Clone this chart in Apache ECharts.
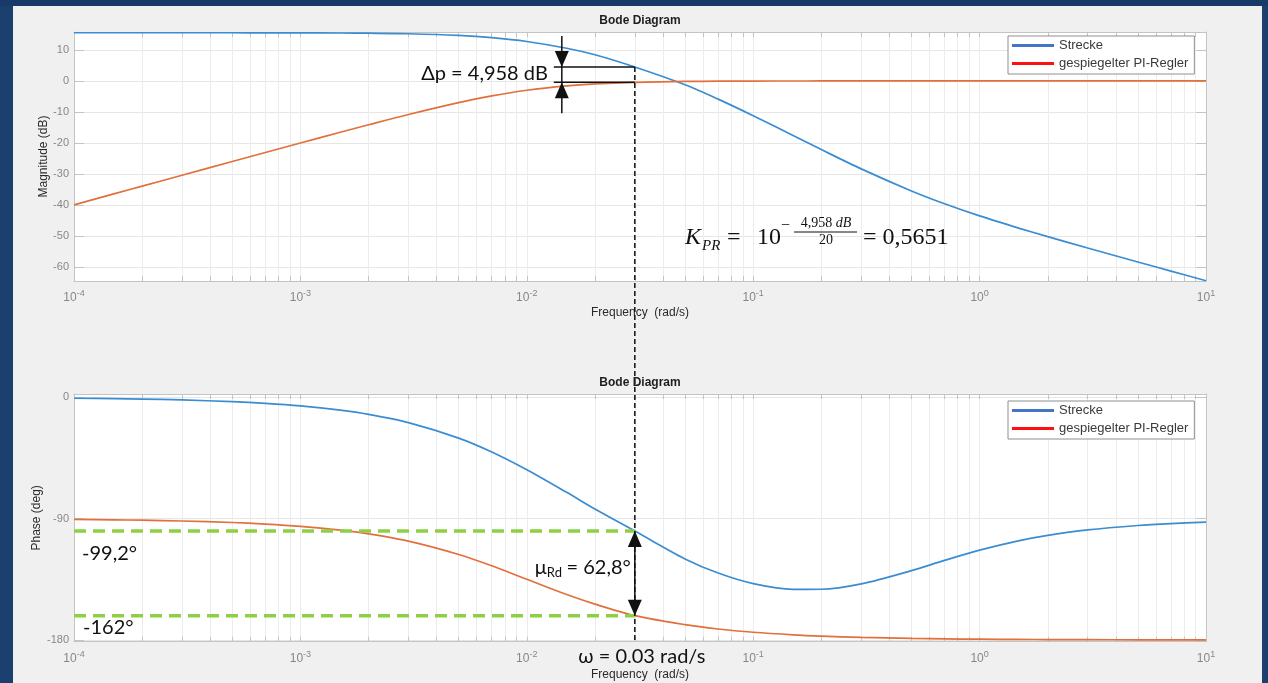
<!DOCTYPE html>
<html>
<head>
<meta charset="utf-8">
<title>Bode Diagram</title>
<script src="https://cdn.jsdelivr.net/npm/echarts@6/dist/echarts.min.js"></script>
<style>
  html, body { margin: 0; padding: 0; background: #1b3f6f; }
  #chart { width: 1268px; height: 683px; }
</style>
</head>
<body>
<div id="chart"></div>
<script>
// Frequency grid (rad/s)
const freq = [1e-4, 1.5e-4, 2e-4, 3e-4, 5e-4, 7e-4,
              1e-3, 1.5e-3, 2e-3, 3e-3, 5e-3, 7e-3,
              1e-2, 1.5e-2, 2e-2, 3e-2, 5e-2, 7e-2,
              0.1, 0.15, 0.2, 0.3, 0.5, 0.7,
              1, 1.5, 2, 3, 5, 7, 10];

// Strecke: magnitude (dB) and phase (deg)
const streckeMag = [15.56, 15.56, 15.56, 15.56, 15.55, 15.54,
                    15.53, 15.48, 15.41, 15.23, 14.69, 13.98,
                    12.74, 10.55, 8.45, 4.50, -1.24, -5.87,
                    -11.23, -17.61, -22.17, -28.40, -35.53, -39.66,
                    -43.57, -47.59, -50.28, -53.95, -58.46, -61.40, -64.51];
const streckePhase = [-0.64, -0.96, -1.27, -1.91, -3.18, -4.45,
                      -6.35, -9.50, -12.62, -18.73, -30.21, -40.51,
                      -53.66, -70.46, -82.86, -99.2, -119.90, -130.37,
                      -138.19, -142.41, -142.37, -138.41, -128.60, -120.96,
                      -113.36, -106.30, -102.43, -98.39, -95.07, -93.63, -92.54];

// gespiegelter PI-Regler: magnitude (dB) and phase (deg)
const reglerMag = [-40.00, -36.48, -33.98, -30.46, -26.03, -23.12,
                   -20.04, -16.57, -14.15, -10.83, -6.99, -4.83,
                   -3.01, -1.60, -0.97, -0.458, -0.17, -0.09,
                   -0.04, -0.02, -0.01, 0, 0, 0,
                   0, 0, 0, 0, 0, 0, 0];
const reglerPhase = [-90.57, -90.86, -91.15, -91.72, -92.86, -94.00,
                     -95.71, -98.53, -101.31, -106.70, -116.57, -124.99,
                     -135.00, -146.31, -153.43, -162.0, -168.69, -171.87,
                     -174.29, -176.19, -177.14, -178.09, -178.85, -179.18,
                     -179.43, -179.62, -179.71, -179.81, -179.89, -179.92, -179.94];

// Operating point and derived quantities
const markFreq = 0.03;
const deltaP = 4.958;
const phaseStrecke = -99.2;
const phaseRegler = -162;
const phaseMargin = 62.8;

// Axis ranges and ticks
const xMin = 1e-4, xMax = 10;
const freqDecades = [1e-4, 1e-3, 1e-2, 1e-1, 1, 10];
const magRange = [-64.6, 15.8];
const magTicks = [-60, -50, -40, -30, -20, -10, 0, 10];
const phaseRange = [-181.3, 2.5];
const phaseTicks = [-180, -90, 0];

const freqTicks = [];
for (let e = -4; e < 1; e++) {
  for (let m = 1; m < 10; m++) freqTicks.push(Number((m * Math.pow(10, e)).toPrecision(3)));
}
freqTicks.push(10);

const SANS = '"Liberation Sans", Arial, sans-serif';
const NOTE = 'Lato, "Open Sans", "Noto Sans", sans-serif';
const SERIF = '"Liberation Serif", "DejaVu Serif", serif';
const TICK_GRAY = '#878787';
const AXIS_GRAY = '#c4c4c4';
const BLUE = '#3a8dd2';
const ORANGE = '#e2703c';
const GREEN = '#8fcf45';

const chart = echarts.init(document.getElementById('chart'), null, { renderer: 'canvas' });

function freqAxes(gridIndex, nameGap) {
  const common = {
    type: 'log', logBase: 10, gridIndex: gridIndex, min: xMin, max: xMax,
    axisLine: { show: true, onZero: false, lineStyle: { color: AXIS_GRAY, width: 1 } },
    axisTick: { show: true, inside: true, length: 5, customValues: freqTicks, lineStyle: { color: AXIS_GRAY } },
    minorTick: { show: false },
    minorSplitLine: { show: false }
  };
  return [
    Object.assign({}, common, {
      position: 'bottom',
      name: 'Frequency  (rad/s)', nameLocation: 'middle', nameGap: nameGap,
      nameTextStyle: { fontFamily: SANS, fontSize: 12, color: '#2a2a2a' },
      axisLabel: {
        show: true, customValues: freqDecades, margin: 8,
        formatter: v => '{b|10}{s|' + Math.round(Math.log10(v)) + '}',
        rich: {
          b: { fontFamily: SANS, fontSize: 12, color: TICK_GRAY },
          s: { fontFamily: SANS, fontSize: 9, color: TICK_GRAY, padding: [0, 0, 8, 0] }
        }
      },
      splitLine: { show: true, lineStyle: { color: '#ececec', width: 1 } }
    }),
    Object.assign({}, common, {
      position: 'top', axisLabel: { show: false }, splitLine: { show: false }
    })
  ];
}

function valueAxes(gridIndex, range, ticks, name, nameGap) {
  const common = {
    type: 'value', gridIndex: gridIndex, min: range[0], max: range[1],
    axisLine: { show: true, onZero: false, lineStyle: { color: AXIS_GRAY, width: 1 } },
    axisTick: { show: true, inside: true, length: 10, customValues: ticks, lineStyle: { color: AXIS_GRAY } }
  };
  return [
    Object.assign({}, common, {
      position: 'left',
      name: name, nameLocation: 'middle', nameGap: nameGap, nameMoveOverlap: false,
      nameTextStyle: { fontFamily: SANS, fontSize: 12, color: '#2a2a2a' },
      axisLabel: { customValues: ticks, margin: 5, fontFamily: SANS, fontSize: 11, color: TICK_GRAY },
      splitLine: { show: true, lineStyle: { color: '#e6e6e6', width: 1 } }
    }),
    Object.assign({}, common, {
      position: 'right', axisLabel: { show: false }, splitLine: { show: false }
    })
  ];
}

function curve(name, xi, yi, values, color) {
  return {
    name: name, type: 'line', xAxisIndex: xi, yAxisIndex: yi,
    data: freq.map((f, i) => [f, values[i]]),
    symbol: 'none', showSymbol: false, smooth: 0.3,
    lineStyle: { color: color, width: 1.7 }, itemStyle: { color: color },
    emphasis: { disabled: true }, z: 3
  };
}

function guide(yValue) {
  return {
    name: 'guide', type: 'line', xAxisIndex: 2, yAxisIndex: 2,
    data: [[xMin, yValue], [markFreq, yValue]],
    symbol: 'none', silent: true,
    lineStyle: { color: GREEN, width: 3.5, type: [12, 7] },
    emphasis: { disabled: true }, z: 4
  };
}

function legendBox(top) {
  return {
    left: 1008, top: top, orient: 'vertical', selectedMode: false,
    icon: 'rect', itemWidth: 42, itemHeight: 3, itemGap: 5,
    backgroundColor: '#ffffff', borderColor: '#8f8f8f', borderWidth: 1, borderRadius: 0,
    padding: [3, 6, 4, 4],
    textStyle: { fontFamily: SANS, fontSize: 13, color: '#3a3a3a' },
    data: [
      { name: 'Strecke', itemStyle: { color: '#4474c8' } },
      { name: 'gespiegelter PI-Regler', itemStyle: { color: '#ff1010' } }
    ]
  };
}

chart.setOption({
  animation: false,
  backgroundColor: '#f0f0f0',
  grid: [
    { left: 74, top: 32, width: 1132, height: 249, show: true, backgroundColor: '#ffffff', borderWidth: 0 },
    { left: 74, top: 394, width: 1132, height: 247.7, show: true, backgroundColor: '#ffffff', borderWidth: 0 }
  ],
  xAxis: freqAxes(0, 26).concat(freqAxes(1, 27)),
  yAxis: valueAxes(0, magRange, magTicks, 'Magnitude (dB)', 24)
           .concat(valueAxes(1, phaseRange, phaseTicks, 'Phase (deg)', 31)),
  legend: [legendBox(36), legendBox(401)],
  series: [
    curve('Strecke', 0, 0, streckeMag, BLUE),
    curve('gespiegelter PI-Regler', 0, 0, reglerMag, ORANGE),
    curve('Strecke', 2, 2, streckePhase, BLUE),
    curve('gespiegelter PI-Regler', 2, 2, reglerPhase, ORANGE),
    guide(phaseStrecke),
    guide(phaseRegler)
  ]
});

// Annotations placed from the axes' own scales
const iMark = freq.indexOf(markFreq);
const px = (s, x, y) => chart.convertToPixel({ seriesIndex: s }, [x, y]);
const [x03, yBm] = px(0, markFreq, streckeMag[iMark]);
const yRm = px(0, markFreq, reglerMag[iMark])[1];
const yBp = px(2, markFreq, streckePhase[iMark])[1];
const yRp = px(2, markFreq, reglerPhase[iMark])[1];
const yBottom = px(2, markFreq, phaseRange[0])[1];
const xArr = x03 - 73;

const de = (v, d) => v.toFixed(d).replace('.', ',');
const kpr = Math.pow(10, -deltaP / 20);
const INK = '#111111';

function text(x, y, str, font, align, extra) {
  return { type: 'text', x: x, y: y, z: 120, silent: true,
    style: Object.assign({ text: str, font: font, fill: INK, align: align || 'left', verticalAlign: 'middle' }, extra || {}) };
}
function seg(x1, y1, x2, y2, w, dash) {
  return { type: 'line', z: 110, silent: true, shape: { x1: x1, y1: y1, x2: x2, y2: y2 },
    style: { stroke: INK, lineWidth: w, lineDash: dash || null } };
}
function tri(x, tipY, baseY) {
  return { type: 'polygon', z: 111, silent: true,
    shape: { points: [[x - 7, baseY], [x + 7, baseY], [x, tipY]] }, style: { fill: INK } };
}

const elements = [
  // slide frame around the figure panel
  { type: 'rect', z: 200, silent: true, shape: { x: 0, y: 0, width: 13, height: 683 }, style: { fill: '#1b3f6f' } },
  { type: 'rect', z: 200, silent: true, shape: { x: 1262, y: 0, width: 6, height: 683 }, style: { fill: '#1b3f6f' } },
  { type: 'rect', z: 200, silent: true, shape: { x: 0, y: 0, width: 1268, height: 6 }, style: { fill: '#173a68' } },

  // plot titles
  text(640, 20.5, 'Bode Diagram', 'bold 12px ' + SANS, 'center', { fill: '#1e1e1e' }),
  text(640, 382.5, 'Bode Diagram', 'bold 12px ' + SANS, 'center', { fill: '#1e1e1e' }),

  // vertical marker at the chosen frequency
  seg(x03, yBm, x03, yBottom, 1.5, [5, 3]),

  // magnitude gap
  seg(xArr - 8, yBm, x03, yBm, 1.5),
  seg(xArr - 8, yRm, x03, yRm, 1.5),
  seg(xArr, yBm - 31, xArr, yRm + 31, 1.5),
  tri(xArr, yBm, yBm - 16),
  tri(xArr, yRm, yRm + 16),
  text(xArr - 14, (yBm + yRm) / 2 - 1, 'Δp = ' + de(deltaP, 3) + ' dB', '20px ' + NOTE, 'right'),

  // phase gap
  seg(x03, yBp + 4, x03, yRp - 4, 1.5),
  tri(x03, yBp, yBp + 16),
  tri(x03, yRp, yRp - 16),
  text(x03 - 100, (yBp + yRp) / 2 - 6, 'μ', '20px ' + NOTE, 'left'),
  text(x03 - 88, (yBp + yRp) / 2 - 1, 'Rd', '13px ' + NOTE, 'left'),
  text(x03 - 4, (yBp + yRp) / 2 - 6, '= ' + de(phaseMargin, 1) + '°', '20px ' + NOTE, 'right'),
  text(82, yBp + 22, de(phaseStrecke, 1) + '°', '20px ' + NOTE, 'left'),
  text(83, yRp + 12, de(phaseRegler, 0) + '°', '20px ' + NOTE, 'left'),
  text(x03 + 7, yBottom + 15, 'ω = ' + markFreq + ' rad/s', '20px ' + NOTE, 'center'),

  // controller gain formula
  text(685, 238, 'K', 'italic 24px ' + SERIF, 'left'),
  text(702, 246, 'PR', 'italic 15px ' + SERIF, 'left'),
  text(727, 238, '=', '24px ' + SERIF, 'left'),
  text(757, 238, '10', '24px ' + SERIF, 'left'),
  text(781, 226, '−', '16px ' + SERIF, 'left'),
  { type: 'text', x: 826, y: 223, z: 120, silent: true,
    style: { text: '{n|' + de(deltaP, 3) + ' }{i|dB}', align: 'center', verticalAlign: 'middle', fill: INK,
      rich: { n: { font: '14px ' + SERIF, fill: INK }, i: { font: 'italic 14px ' + SERIF, fill: INK } } } },
  seg(794, 232, 857, 232, 1),
  text(826, 240, '20', '14px ' + SERIF, 'center'),
  text(863, 238, '= ' + de(kpr, 4), '24px ' + SERIF, 'left')
];

chart.setOption({ graphic: { elements: elements } });
</script>
</body>
</html>
